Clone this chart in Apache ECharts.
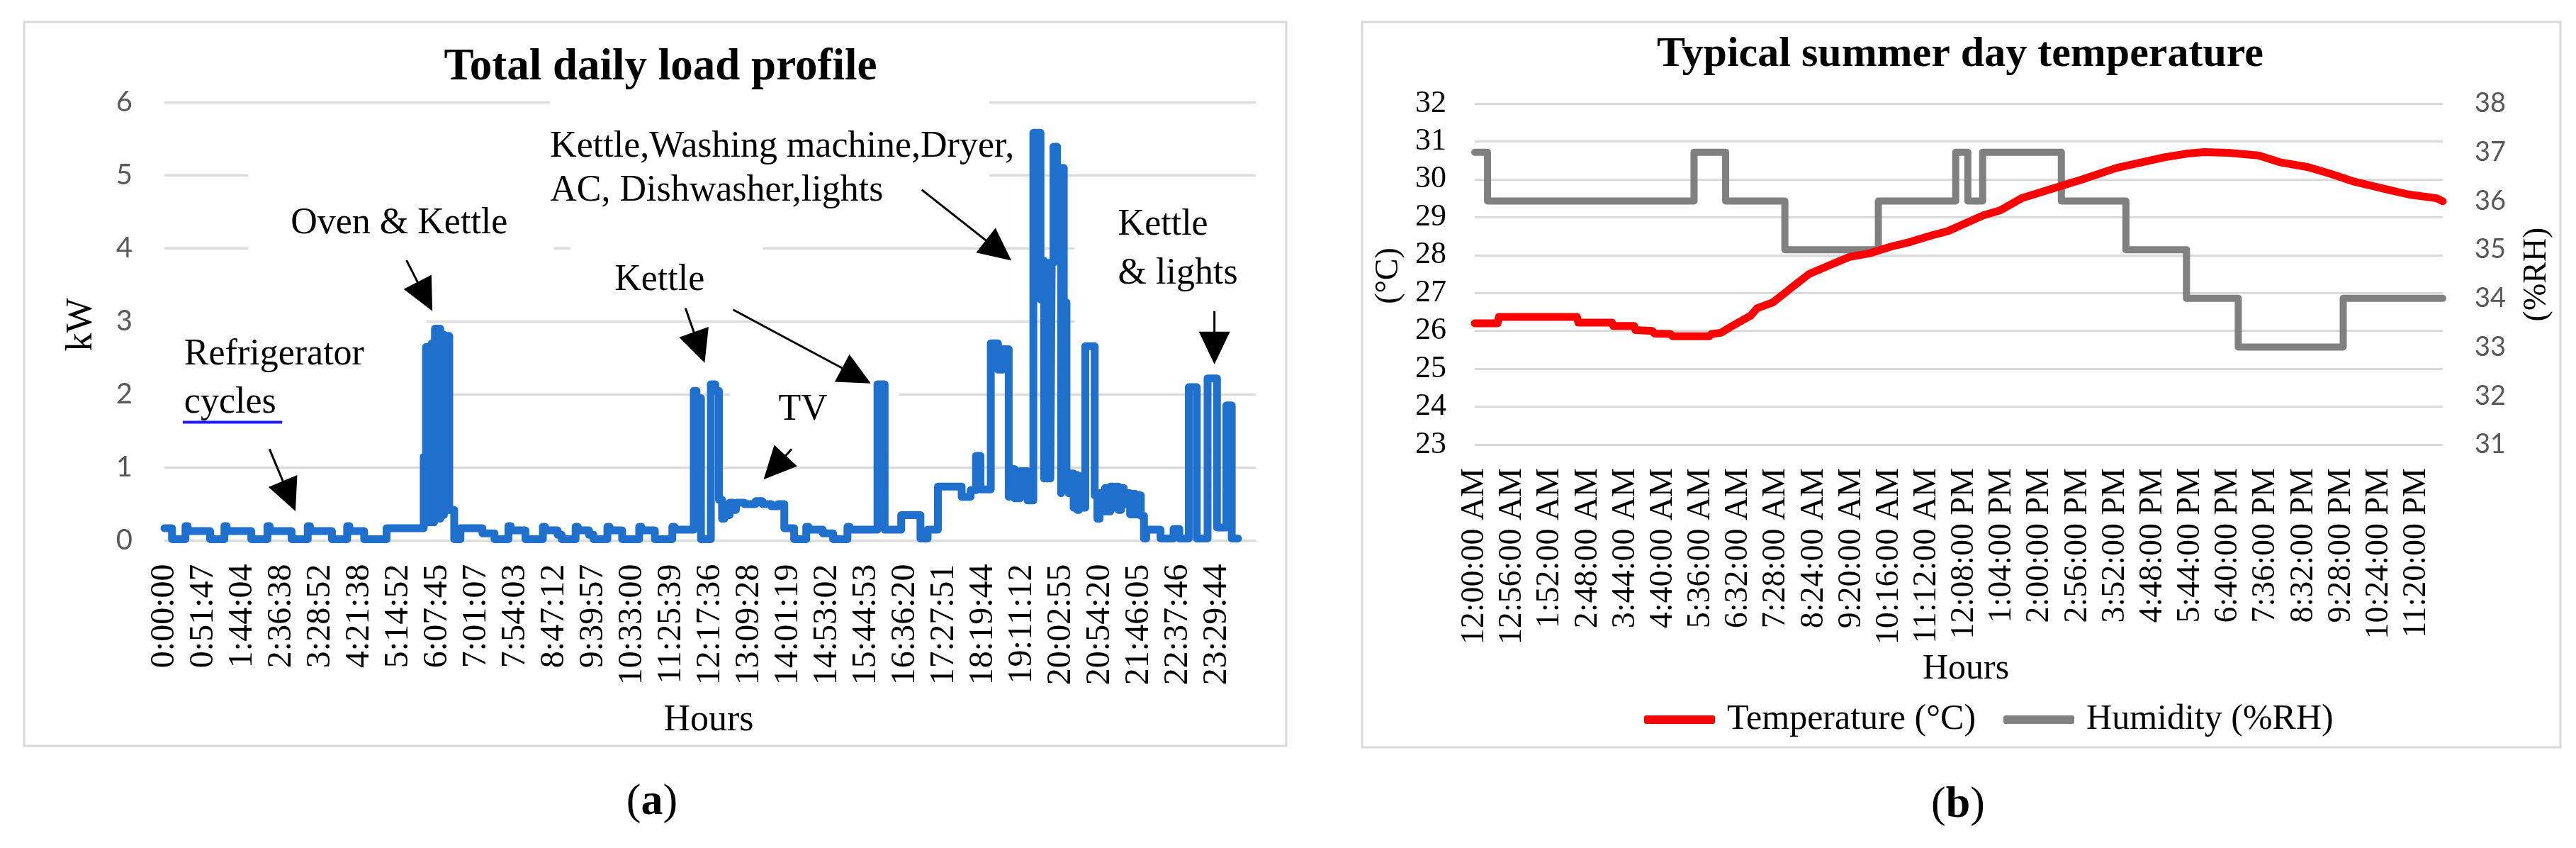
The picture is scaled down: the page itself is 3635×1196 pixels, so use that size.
<!DOCTYPE html>
<html>
<head>
<meta charset="utf-8">
<script src="https://cdn.jsdelivr.net/npm/echarts@6/dist/echarts.min.js"></script>
<style>
html,body{margin:0;padding:0;background:#fff;}
#c{width:3635px;height:1196px;}
</style>
</head>
<body>
<div id="c"></div>
<script>
// ---------- DATA ----------
// (a) tick labels of the category-like time axis
const loadTicks = ['0:00:00','0:51:47','1:44:04','2:36:38','3:28:52','4:21:38','5:14:52','6:07:45','7:01:07','7:54:03','8:47:12','9:39:57','10:33:00','11:25:39','12:17:36','13:09:28','14:01:19','14:53:02','15:44:53','16:36:20','17:27:51','18:19:44','19:11:12','20:02:55','20:54:20','21:46:05','22:37:46','23:29:44'];
// (a) load profile: [hour of day, kW] (value holds until next point)
const loadProfile = [
 [0.00,0.17],[0.17,0.02],[0.47,0.20],[0.52,0.13],[1.02,0.02],
 [1.34,0.20],[1.39,0.13],[1.94,0.02],[2.30,0.20],[2.35,0.13],
 [2.84,0.02],[3.20,0.20],[3.25,0.13],[3.74,0.02],[4.08,0.20],
 [4.13,0.13],[4.46,0.02],[4.96,0.17],[5.79,1.15],[5.84,2.65],
 [5.88,0.25],[5.90,2.65],[5.95,0.25],[5.97,2.70],[6.02,0.25],
 [6.04,2.90],[6.09,0.30],[6.11,2.90],[6.16,0.30],[6.18,2.82],
 [6.24,0.35],[6.26,2.80],[6.36,0.42],[6.47,0.02],
 [6.61,0.17],[7.10,0.10],[7.37,0.02],[7.68,0.20],[7.73,0.14],
 [8.06,0.02],[8.45,0.19],[8.50,0.14],[8.78,0.08],[8.87,0.02],
 [9.18,0.19],[9.23,0.14],[9.48,0.08],[9.58,0.02],[9.89,0.19],
 [9.94,0.14],[10.22,0.02],[10.60,0.19],[10.65,0.14],[10.95,0.02],
 [11.34,0.19],[11.39,0.15],[11.82,2.05],[11.88,1.95],[11.98,0.02],
 [12.20,2.14],[12.30,2.05],[12.38,0.56],[12.45,0.30],[12.50,0.45],
 [12.56,0.35],[12.62,0.52],[12.70,0.42],[12.76,0.52],[12.95,0.50],
 [13.20,0.54],[13.35,0.50],[13.55,0.47],[13.70,0.50],[13.84,0.17],
 [14.06,0.02],[14.33,0.19],[14.38,0.15],[14.70,0.10],[14.93,0.02],
 [15.25,0.19],[15.30,0.15],[15.92,2.14],[16.08,0.15],[16.45,0.35],
 [16.88,0.03],[17.04,0.15],[17.27,0.74],[17.80,0.60],[18.00,0.69],
 [18.12,1.16],[18.22,0.70],[18.45,2.70],[18.61,2.34],[18.72,2.62],
 [18.85,0.60],[18.88,0.98],[18.98,0.58],[19.10,0.95],[19.27,0.55],
 [19.40,5.58],[19.56,3.30],[19.60,3.83],[19.64,0.85],[19.67,3.80],
 [19.71,0.85],[19.74,3.80],[19.78,0.85],[19.81,3.80],[19.85,5.39],
 [19.93,5.10],[20.02,0.65],[20.04,5.10],[20.08,3.26],[20.14,0.80],
 [20.19,0.65],[20.24,0.92],[20.30,0.45],[20.34,0.90],[20.38,0.42],
 [20.42,0.88],[20.46,0.45],[20.56,2.66],[20.77,0.62],[20.83,0.30],
 [20.88,0.65],[20.95,0.40],[21.00,0.72],[21.06,0.40],[21.12,0.74],
 [21.18,0.45],[21.24,0.74],[21.30,0.42],[21.36,0.72],[21.42,0.50],
 [21.50,0.65],[21.56,0.36],[21.62,0.64],[21.68,0.36],[21.74,0.62],
 [21.80,0.34],[21.87,0.03],[21.92,0.15],[22.24,0.03],[22.53,0.16],
 [22.66,0.03],[22.87,2.10],[23.05,0.03],[23.29,2.22],[23.50,0.18],
 [23.71,1.85],[23.83,0.03],[23.97,0.03]
];
// (b) tick labels, one every 56 minutes
const tempTicks = ['12:00:00 AM','12:56:00 AM','1:52:00 AM','2:48:00 AM','3:44:00 AM','4:40:00 AM','5:36:00 AM','6:32:00 AM','7:28:00 AM','8:24:00 AM','9:20:00 AM','10:16:00 AM','11:12:00 AM','12:08:00 PM','1:04:00 PM','2:00:00 PM','2:56:00 PM','3:52:00 PM','4:48:00 PM','5:44:00 PM','6:40:00 PM','7:36:00 PM','8:32:00 PM','9:28:00 PM','10:24:00 PM','11:20:00 PM'];
// (b) temperature: [minute of day, °C]
const tempProfile = [[0,26.2],[34,26.2],[36,26.37],[152,26.37],[154,26.22],[204,26.22],[206,26.13],[237,26.13],[239,26.02],[264,26.0],[267,25.93],[291,25.92],[294,25.86],[349,25.86],[352,25.92],[366,25.95],[380,26.1],[395,26.25],[410,26.4],[420,26.6],[443,26.75],[461,27.0],[475,27.2],[497,27.5],[527,27.73],[557,27.95],[588,28.05],[618,28.22],[648,28.35],[679,28.52],[703,28.63],[727,28.82],[756,29.05],[781,29.18],[813,29.5],[858,29.75],[900,29.98],[954,30.3],[1025,30.58],[1060,30.68],[1084,30.72],[1120,30.7],[1165,30.63],[1197,30.45],[1239,30.32],[1275,30.13],[1305,29.95],[1359,29.72],[1388,29.6],[1430,29.5],[1439,29.42]];
// (b) humidity: [minute of day, %RH] (value holds until next point)
const humProfile = [[0,37],[19,36],[326,37],[373,36],[461,35],[600,36],[715,37],[733,36],[755,37],[872,36],[968,35],[1058,34],[1135,33],[1291,34],[1439,34]];
const seriesNames = ['Temperature (°C)','Humidity (%RH)'];

// annotations of (a), in data coordinates [hour, kW]
const annoText = [
 ['Refrigerator',0.44,2.54],['cycles',0.44,1.88],['Oven & Kettle',2.82,4.335],
 ['Kettle,Washing machine,Dryer,',8.61,5.39],['AC, Dishwasher,lights',8.61,4.78],
 ['Kettle',10.05,3.56],['TV',13.71,1.79],['Kettle',21.29,4.32],['& lights',21.29,3.65]
];
const annoArrows = [
 [2.346,1.252,2.926,0.403],[5.405,3.835,5.983,3.141],[16.909,4.801,18.910,3.833],
 [11.634,3.180,12.062,2.432],[12.696,3.160,15.771,2.150],[14.004,1.252,13.378,0.836],
 [23.443,3.141,23.443,2.413]
];
const annoBoxes = [
 [-0.11,3.13,5.85,1.46],[1.87,5.10,8.70,3.89],[8.61,6.14,18.42,4.20],
 [9.07,4.10,13.36,3.08],[12.62,2.26,16.40,1.33],[20.32,4.59,24.43,2.35]
];

// ---------- CHART ----------
const SLOT_H = (23 + 29/60 + 44/3600) / 27; // hours per labelled step
const SERIF = '"Liberation Serif", "Times New Roman", serif';
const SANS = 'Lato, "Open Sans", sans-serif';
const GRID_C = '#d9d9d9';

const chart = echarts.init(document.getElementById('c'));

const option = {
  animation: false,
  backgroundColor: '#fff',
  grid: [
    {left: 232, top: 144, width: 1540, height: 618.5, outerBoundsMode: 'none'},
    {left: 2081, top: 146, width: 1366, height: 481, outerBoundsMode: 'none'}
  ],
  xAxis: [
    {type: 'value', gridIndex: 0, min: 0, max: 28, interval: 1,
     axisLine: {show: false}, axisTick: {show: false}, splitLine: {show: false},
     axisLabel: {rotate: 90, margin: 33, fontFamily: SERIF, fontSize: 48, color: '#000',
       formatter: function (v) { const i = Math.round(v); return (Math.abs(v - i) < 1e-6 && i < loadTicks.length) ? loadTicks[i] : ''; }}},
    {type: 'value', gridIndex: 1, min: 0, max: 1439, interval: 56,
     axisLine: {show: false}, axisTick: {show: false}, splitLine: {show: false},
     axisLabel: {rotate: 90, margin: 33, fontFamily: SERIF, fontSize: 46, color: '#000',
       formatter: function (v) { const i = Math.round(v / 56); return (Math.abs(v - i * 56) < 1e-6 && i < tempTicks.length) ? tempTicks[i] : ''; }}}
  ],
  yAxis: [
    {type: 'value', gridIndex: 0, min: 0, max: 6, interval: 1,
     axisLine: {show: false}, axisTick: {show: false},
     splitLine: {show: true, lineStyle: {color: GRID_C, width: 3}},
     axisLabel: {margin: 45, fontFamily: SANS, fontSize: 40, color: '#595959'}},
    {type: 'value', gridIndex: 1, min: 23, max: 32, interval: 1, position: 'left',
     axisLine: {show: false}, axisTick: {show: false},
     splitLine: {show: true, lineStyle: {color: GRID_C, width: 3}},
     axisLabel: {margin: 40, fontFamily: SERIF, fontSize: 44, color: '#000'}},
    {type: 'value', gridIndex: 1, min: 31, max: 38, interval: 1, position: 'right',
     axisLine: {show: false}, axisTick: {show: false}, splitLine: {show: false},
     axisLabel: {margin: 45, fontFamily: SANS, fontSize: 38, color: '#595959'}}
  ],
  legend: {
    left: 2320, top: 990, padding: 0, itemWidth: 100, itemHeight: 12, itemGap: 39,
    icon: 'roundRect', data: seriesNames,
    textStyle: {fontFamily: SERIF, fontSize: 50, color: '#000', padding: [0, 0, 0, 12]}
  },
  series: [
    {name: 'Total load', type: 'line', xAxisIndex: 0, yAxisIndex: 0, step: 'end',
     symbol: 'none', z: 3,
     lineStyle: {color: '#1f6fcc', width: 11, join: 'round', cap: 'round'}, itemStyle: {color: '#1f6fcc'},
     data: loadProfile.map(p => [p[0] / SLOT_H, p[1]])},
    {name: seriesNames[0], type: 'line', xAxisIndex: 1, yAxisIndex: 1,
     symbol: 'none', z: 4,
     lineStyle: {color: '#ff0000', width: 11, join: 'round', cap: 'round'}, itemStyle: {color: '#ff0000'},
     data: tempProfile},
    {name: seriesNames[1], type: 'line', xAxisIndex: 1, yAxisIndex: 2, step: 'end',
     symbol: 'none', z: 3,
     lineStyle: {color: '#808080', width: 10, join: 'round', cap: 'round'}, itemStyle: {color: '#808080'},
     data: humProfile}
  ]
};
chart.setOption(option);

// ---------- DECORATION (frames, titles, annotations) ----------
function px(h, v) { return chart.convertToPixel({gridIndex: 0}, [h / SLOT_H, v]); }
function txt(text, x, y, size, opts) {
  opts = opts || {};
  return {type: 'text', x: x, y: y, rotation: opts.rot || 0, z: 20, silent: true,
    style: {text: text, font: (opts.bold ? 'bold ' : '') + size + 'px ' + SERIF, fill: opts.fill || '#000',
      align: opts.align || 'center', textAlign: opts.align || 'center',
      verticalAlign: 'middle', textVerticalAlign: 'middle'}};
}
const g = [];
// chart frames
g.push({type: 'rect', z: 1, silent: true, shape: {x: 34, y: 31, width: 1781, height: 1021}, style: {fill: null, stroke: GRID_C, lineWidth: 3}});
g.push({type: 'rect', z: 1, silent: true, shape: {x: 1922, y: 31, width: 1691, height: 1023}, style: {fill: null, stroke: GRID_C, lineWidth: 3}});
// white text boxes of (a) that hide the grid lines
annoBoxes.forEach(b => {
  const p1 = px(b[0], b[1]), p2 = px(b[2], b[3]);
  g.push({type: 'rect', z: 1, silent: true, shape: {x: p1[0], y: p1[1], width: p2[0] - p1[0], height: p2[1] - p1[1]}, style: {fill: '#fff', stroke: null}});
});
// titles
g.push(txt('Total daily load profile', 932, 96, 63, {bold: true}));
g.push(txt('Typical summer day temperature', 2766, 77, 60, {bold: true}));
// axis names
g.push(txt('kW', 115, 458, 52, {rot: Math.PI / 2}));
g.push(txt('Hours', 1000, 1016, 52));
g.push(txt('(°C)', 1960, 389, 46, {rot: Math.PI / 2}));
g.push(txt('(%RH)', 3580, 387, 46, {rot: Math.PI / 2}));
g.push(txt('Hours', 2774, 944, 50));
// captions
[['a', 920, 1132], ['b', 2763, 1136]].forEach(c => {
  g.push({type: 'text', x: c[1], y: c[2], z: 20, silent: true,
    style: {text: '{p|(}{b|' + c[0] + '}{p|)}', align: 'center', textAlign: 'center', verticalAlign: 'middle', textVerticalAlign: 'middle',
      rich: {p: {font: '62px ' + SERIF, fill: '#000'}, b: {font: 'bold 62px ' + SERIF, fill: '#000'}}}});
});
// annotation texts
annoText.forEach(a => { const p = px(a[1], a[2]); g.push(txt(a[0], p[0], p[1], 52, {align: 'left'})); });
// blue underline under "cycles"
(function () {
  const p1 = px(0.41, 1.62), p2 = px(2.63, 1.62);
  g.push({type: 'line', z: 20, silent: true, shape: {x1: p1[0], y1: p1[1], x2: p2[0], y2: p2[1]}, style: {stroke: '#1a1aff', lineWidth: 4}});
})();
// arrows
annoArrows.forEach(a => {
  const s = px(a[0], a[1]), e = px(a[2], a[3]);
  const dx = e[0] - s[0], dy = e[1] - s[1], L = Math.sqrt(dx * dx + dy * dy);
  const ux = dx / L, uy = dy / L, head = 46, half = 22;
  const bx = e[0] - ux * head, by = e[1] - uy * head;
  g.push({type: 'line', z: 20, silent: true, shape: {x1: s[0], y1: s[1], x2: bx + ux * 4, y2: by + uy * 4}, style: {stroke: '#000', lineWidth: 3}});
  g.push({type: 'polygon', z: 20, silent: true, shape: {points: [[e[0], e[1]], [bx - uy * half, by + ux * half], [bx + uy * half, by - ux * half]]}, style: {fill: '#000', stroke: null}});
});
chart.setOption({graphic: {elements: g}});
</script>
</body>
</html>
